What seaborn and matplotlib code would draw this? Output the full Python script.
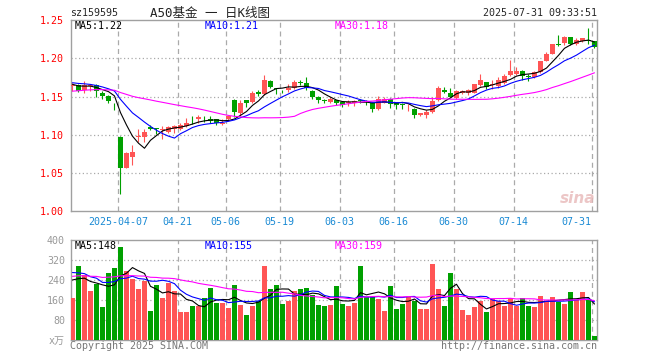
import numpy as np
import pandas as pd
import seaborn as sns
import matplotlib.pyplot as plt

# --- data (sz159595, daily bars 2025-03-25 .. 2025-07-31) ---
open_ = [1.164, 1.165, 1.158, 1.164, 1.165, 1.155, 1.151, 1.138, 1.097, 1.057,
         1.071, 1.097, 1.097, 1.110, 1.109, 1.106, 1.104, 1.108, 1.108, 1.111,
         1.121, 1.120, 1.121, 1.121, 1.120, 1.114, 1.120, 1.146, 1.128, 1.145,
         1.143, 1.156, 1.153, 1.170, 1.161, 1.159, 1.159, 1.161, 1.169, 1.168,
         1.157, 1.150, 1.145, 1.143, 1.145, 1.143, 1.142, 1.141, 1.145, 1.144,
         1.142, 1.134, 1.142, 1.147, 1.141, 1.140, 1.137, 1.134, 1.126, 1.126,
         1.130, 1.145, 1.158, 1.154, 1.148, 1.155, 1.155, 1.155, 1.165, 1.169,
         1.165, 1.164, 1.168, 1.178, 1.180, 1.184, 1.177, 1.176, 1.182, 1.197,
         1.206, 1.218, 1.220, 1.228, 1.218, 1.223, 1.224, 1.222]
close = [1.165, 1.157, 1.165, 1.165, 1.157, 1.151, 1.144, 1.137, 1.056, 1.076,
         1.078, 1.098, 1.104, 1.108, 1.107, 1.108, 1.110, 1.112, 1.113, 1.115,
         1.120, 1.123, 1.120, 1.118, 1.116, 1.115, 1.124, 1.130, 1.142, 1.141,
         1.155, 1.153, 1.171, 1.163, 1.160, 1.158, 1.161, 1.169, 1.168, 1.161,
         1.149, 1.145, 1.144, 1.147, 1.142, 1.139, 1.143, 1.144, 1.144, 1.143,
         1.134, 1.147, 1.147, 1.140, 1.139, 1.139, 1.138, 1.126, 1.128, 1.130,
         1.144, 1.161, 1.156, 1.150, 1.157, 1.157, 1.159, 1.166, 1.171, 1.163,
         1.167, 1.171, 1.177, 1.184, 1.184, 1.177, 1.175, 1.182, 1.196, 1.206,
         1.218, 1.217, 1.228, 1.218, 1.224, 1.226, 1.223, 1.215]
high = [1.168, 1.166, 1.170, 1.166, 1.166, 1.157, 1.152, 1.141, 1.098, 1.078,
        1.087, 1.108, 1.107, 1.113, 1.109, 1.111, 1.112, 1.113, 1.115, 1.122,
        1.124, 1.126, 1.124, 1.124, 1.121, 1.120, 1.125, 1.147, 1.146, 1.146,
        1.157, 1.158, 1.178, 1.171, 1.161, 1.159, 1.166, 1.172, 1.172, 1.175,
        1.159, 1.151, 1.147, 1.149, 1.146, 1.143, 1.146, 1.146, 1.147, 1.146,
        1.143, 1.151, 1.149, 1.148, 1.142, 1.141, 1.140, 1.135, 1.129, 1.132,
        1.150, 1.164, 1.163, 1.161, 1.158, 1.158, 1.160, 1.167, 1.180, 1.169,
        1.171, 1.175, 1.180, 1.198, 1.188, 1.185, 1.180, 1.184, 1.197, 1.208,
        1.219, 1.230, 1.229, 1.228, 1.226, 1.227, 1.239, 1.223]
low = [1.157, 1.156, 1.155, 1.157, 1.149, 1.147, 1.141, 1.133, 1.023, 1.056,
       1.060, 1.091, 1.091, 1.106, 1.101, 1.095, 1.102, 1.102, 1.106, 1.110,
       1.114, 1.116, 1.117, 1.116, 1.113, 1.113, 1.118, 1.123, 1.125, 1.136,
       1.142, 1.151, 1.152, 1.161, 1.153, 1.154, 1.156, 1.160, 1.165, 1.159,
       1.147, 1.141, 1.141, 1.141, 1.139, 1.136, 1.138, 1.138, 1.141, 1.139,
       1.130, 1.133, 1.141, 1.135, 1.134, 1.134, 1.131, 1.122, 1.124, 1.122,
       1.128, 1.144, 1.155, 1.149, 1.147, 1.153, 1.152, 1.154, 1.164, 1.160,
       1.160, 1.161, 1.167, 1.177, 1.178, 1.172, 1.170, 1.174, 1.181, 1.196,
       1.205, 1.216, 1.217, 1.217, 1.217, 1.221, 1.219, 1.213]
volume = [167, 297, 259, 194, 222, 130, 268, 289, 373, 276,
          244, 202, 237, 113, 218, 169, 226, 194, 110, 110,
          137, 134, 169, 206, 149, 149, 129, 218, 141, 100,
          137, 157, 297, 202, 218, 145, 155, 194, 202, 206,
          178, 141, 137, 141, 216, 145, 137, 149, 297, 173,
          173, 165, 113, 216, 125, 145, 173, 157, 121, 121,
          305, 202, 137, 268, 202, 117, 100, 133, 157, 109,
          165, 157, 137, 169, 137, 169, 137, 133, 177, 157,
          173, 153, 145, 190, 161, 190, 161, 13]

# closes / volumes before the window, only used to seed the moving averages
hist_close = [1.140, 1.145, 1.150, 1.148, 1.152, 1.155, 1.150, 1.146, 1.149, 1.153,
              1.151, 1.147, 1.154, 1.156, 1.152, 1.155, 1.158, 1.154, 1.157, 1.158,
              1.166, 1.170, 1.173, 1.171, 1.170, 1.168, 1.166, 1.165, 1.166]
hist_volume = [230, 260, 250, 240, 255, 235, 245, 260, 250, 240,
               250, 245, 255, 240, 250, 235, 250, 260, 245, 245,
               310, 290, 320, 280, 300, 270, 250, 260, 253]

tick_idx = [8, 18, 26, 35, 45, 54, 64, 74, 87]
tick_labels = ['2025-04-07', '04-21', '05-06', '05-19', '06-03', '06-16', '06-30', '07-14', '07-31']

RED, GREEN = '#FF5555', '#00A000'
MONO = 'DejaVu Sans Mono'

df = pd.DataFrame({'open': open_, 'close': close, 'high': high, 'low': low, 'volume': volume})
df['idx'] = np.arange(len(df))
df['dir'] = np.where(df['close'] >= df['open'], 'up', 'down')
n = len(df)
c_all = pd.Series(hist_close + close)
v_all = pd.Series(hist_volume + volume)
for w in (5, 10, 30):
    df[f'ma{w}'] = c_all.rolling(w).mean().values[-n:]
    df[f'vma{w}'] = v_all.rolling(w).mean().values[-n:]

sns.set_style('white')
plt.rcParams['font.family'] = [MONO, 'Noto Sans CJK SC']

fig = plt.figure(figsize=(6.6, 3.6), dpi=100)
W, H = 660, 360
ax = fig.add_axes([70.5 / W, 1 - 211.3 / H, 526.5 / W, 191.3 / H])
axv = fig.add_axes([70.5 / W, 1 - 339.5 / H, 526.5 / W, 99.2 / H])

# --- candles ---
colors = df['dir'].map({'up': RED, 'down': GREEN})
body_lo = df[['open', 'close']].min(axis=1)
body_h = (df['close'] - df['open']).abs().clip(lower=0.0008)
ax.vlines(df['idx'], df['low'], df['high'], colors=colors, lw=0.8, zorder=3)
ax.bar(df['idx'], body_h, bottom=body_lo, width=0.83, color=colors, lw=0, zorder=4)

for col, c in (('ma5', 'black'), ('ma10', '#0000FF'), ('ma30', '#FF00FF')):
    sns.lineplot(data=df, x='idx', y=col, color=c, lw=0.8, ax=ax, zorder=5)

# --- volume ---
sns.barplot(data=df, x='idx', y='volume', hue='dir', palette={'up': RED, 'down': GREEN},
            dodge=False, native_scale=True, width=0.83, linewidth=0, errorbar=None,
            saturation=1, legend=False, ax=axv, zorder=3)
for col, c in (('vma5', 'black'), ('vma10', '#0000FF'), ('vma30', '#FF00FF')):
    sns.lineplot(data=df, x='idx', y=col, color=c, lw=0.8, ax=axv, zorder=5)

# --- axes styling ---
grid_x = [i - 0.45 for i in tick_idx]
for a in (ax, axv):
    a.set_xlim(-0.33, 87.42)
    a.set_xticks(grid_x)
    a.set_xlabel('')
    a.set_ylabel('')
    a.tick_params(length=0)
    a.grid(False)
    for s in a.spines.values():
        s.set_color('#A0A0A0')
        s.set_linewidth(1.0)
    for gx in grid_x:
        a.axvline(gx, color='#AAAAAA', lw=0.9, ls=(0, (4, 3)), zorder=1)

ax.set_ylim(1.00, 1.25)
pticks = [1.00, 1.05, 1.10, 1.15, 1.20, 1.25]
ax.set_yticks(pticks)
ax.set_yticklabels([f'{t:.2f}' for t in pticks], color='#FF0000', fontsize=7.2)
for t in pticks[1:-1]:
    ax.axhline(t, color='#AAAAAA', lw=0.9, ls=(0, (1, 2)), zorder=1)
ax.set_xticklabels(tick_labels, color='#1A8AD4', fontsize=7.2)
ax.tick_params(axis='x', pad=4)
ax.tick_params(axis='y', pad=5)
ax.get_xticklabels()[-1].set_ha('right')

axv.set_ylim(0, 400)
vticks = [0, 80, 160, 240, 320, 400]
axv.set_yticks(vticks)
axv.set_yticklabels(['x万'] + [str(t) for t in vticks[1:]], color='#999999', fontsize=7.2)
axv.tick_params(axis='y', pad=4)
axv.set_xticklabels([])
for t in vticks[1:-1]:
    axv.axhline(t, color='#AAAAAA', lw=0.9, ls=(0, (1, 2)), zorder=1)


def px(x, y):
    return x / W, 1 - y / H


# --- header and labels ---
fs = 7.2
fig.text(*px(70, 13), 'sz159595', fontsize=fs, va='center', ha='left')
fig.text(*px(150, 13), 'A50基金 一 日K线图', fontsize=9, va='center', ha='left', color='#222222')
fig.text(*px(597, 13), '2025-07-31 09:33:51', fontsize=fs, va='center', ha='right')
for y, labels in ((26, ('MA5:1.22', 'MA10:1.21', 'MA30:1.18')),
                  (246, ('MA5:148', 'MA10:155', 'MA30:159'))):
    for x, lab, c in zip((75, 205, 335), labels, ('black', '#0000FF', '#FF00FF')):
        fig.text(*px(x, y), lab, fontsize=fs, va='center', ha='left', color=c)
fig.text(*px(70, 346), 'Copyright 2025 SINA.COM', fontsize=fs, va='center', ha='left', color='#777777')
fig.text(*px(597, 346), 'http://finance.sina.com.cn', fontsize=fs, va='center', ha='right', color='#777777')
fig.text(*px(578, 198), 'sina', fontsize=11, fontweight='bold', style='italic',
         family='DejaVu Sans', va='center', ha='center', color='#E8B8B8', alpha=0.8)

fig.savefig('out.png', dpi=100)
